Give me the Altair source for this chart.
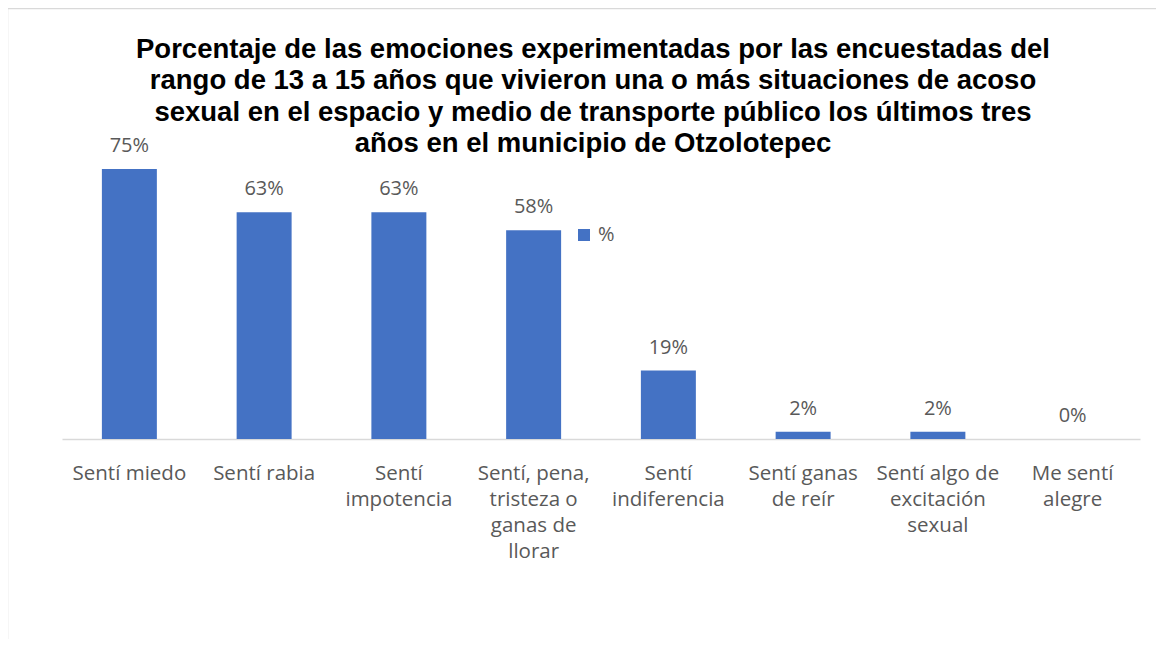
import altair as alt
import pandas as pd

categories = [
    "Sentí miedo",
    "Sentí rabia",
    "Sentí|impotencia",
    "Sentí, pena,|tristeza o|ganas de|llorar",
    "Sentí|indiferencia",
    "Sentí ganas|de reír",
    "Sentí algo de|excitación|sexual",
    "Me sentí|alegre",
]
values = [75, 63, 63, 58, 19, 2, 2, 0]
series_name = "%"

df = pd.DataFrame({
    "cat": categories,
    "val": values,
    "label": [f"{v}%" for v in values],
    "series": [series_name] * len(values),
})

title_lines = [
    "Porcentaje de las emociones experimentadas por las encuestadas del",
    "rango de 13 a 15 años que vivieron una o más situaciones de acoso",
    "sexual en el espacio y medio de transporte público los últimos tres",
    "años en el municipio de Otzolotepec",
]

FONT = "Open Sans"
GRAY = "#595959"

x = alt.X("cat:N", sort=categories, title=None,
          scale=alt.Scale(paddingInner=0.592, paddingOuter=0.296),
          axis=alt.Axis(labelAngle=0, labelExpr="split(datum.label, '|')",
                        labelFont=FONT, labelFontSize=20.5, labelColor=GRAY,
                        labelLineHeight=26, labelPadding=34, labelBaseline="middle",
                        ticks=False, domainColor="#D9D9D9", domainWidth=1.5,
                        labelLimit=200))
y = alt.Y("val:Q", scale=alt.Scale(domain=[0, 80]), axis=None)

base = alt.Chart(df)

bars = base.mark_bar(color="#4472C4").encode(
    x=x, y=y,
    color=alt.Color("series:N", scale=alt.Scale(range=["#4472C4"]),
                    legend=alt.Legend(title=None, orient="none", legendX=512, legendY=74,
                                      symbolType="square", symbolSize=144,
                                      symbolStrokeWidth=0,
                                      labelFont=FONT, labelFontSize=20, labelColor=GRAY)),
)

labels = base.mark_text(baseline="bottom", dy=-13, font=FONT, fontSize=20, color=GRAY).encode(
    x=alt.X("cat:N", sort=categories), y="val:Q", text="label:N"
)

frame = alt.Chart(pd.DataFrame({"a": [0]})).mark_rect(
    fill=None, stroke="#D9D9D9", strokeWidth=1.5
).encode(x=alt.value(-54.5), x2=alt.value(1110), y=alt.value(-142.5), y2=alt.value(560))

chart = alt.layer(frame, bars, labels).properties(
    width=1078, height=288,
    title=alt.TitleParams(title_lines, font="Liberation Sans", fontSize=27.5, fontWeight="bold",
                          color="#000000", lineHeight=31.5, anchor="middle", frame="group",
                          dx=-8, offset=-150),
    autosize=alt.AutoSizeParams(type="none"),
    padding={"left": 54, "top": 143, "right": 16, "bottom": 200},
).configure_view(stroke=None)

chart.save("out.html", embed_options={"renderer": "svg", "actions": False})
